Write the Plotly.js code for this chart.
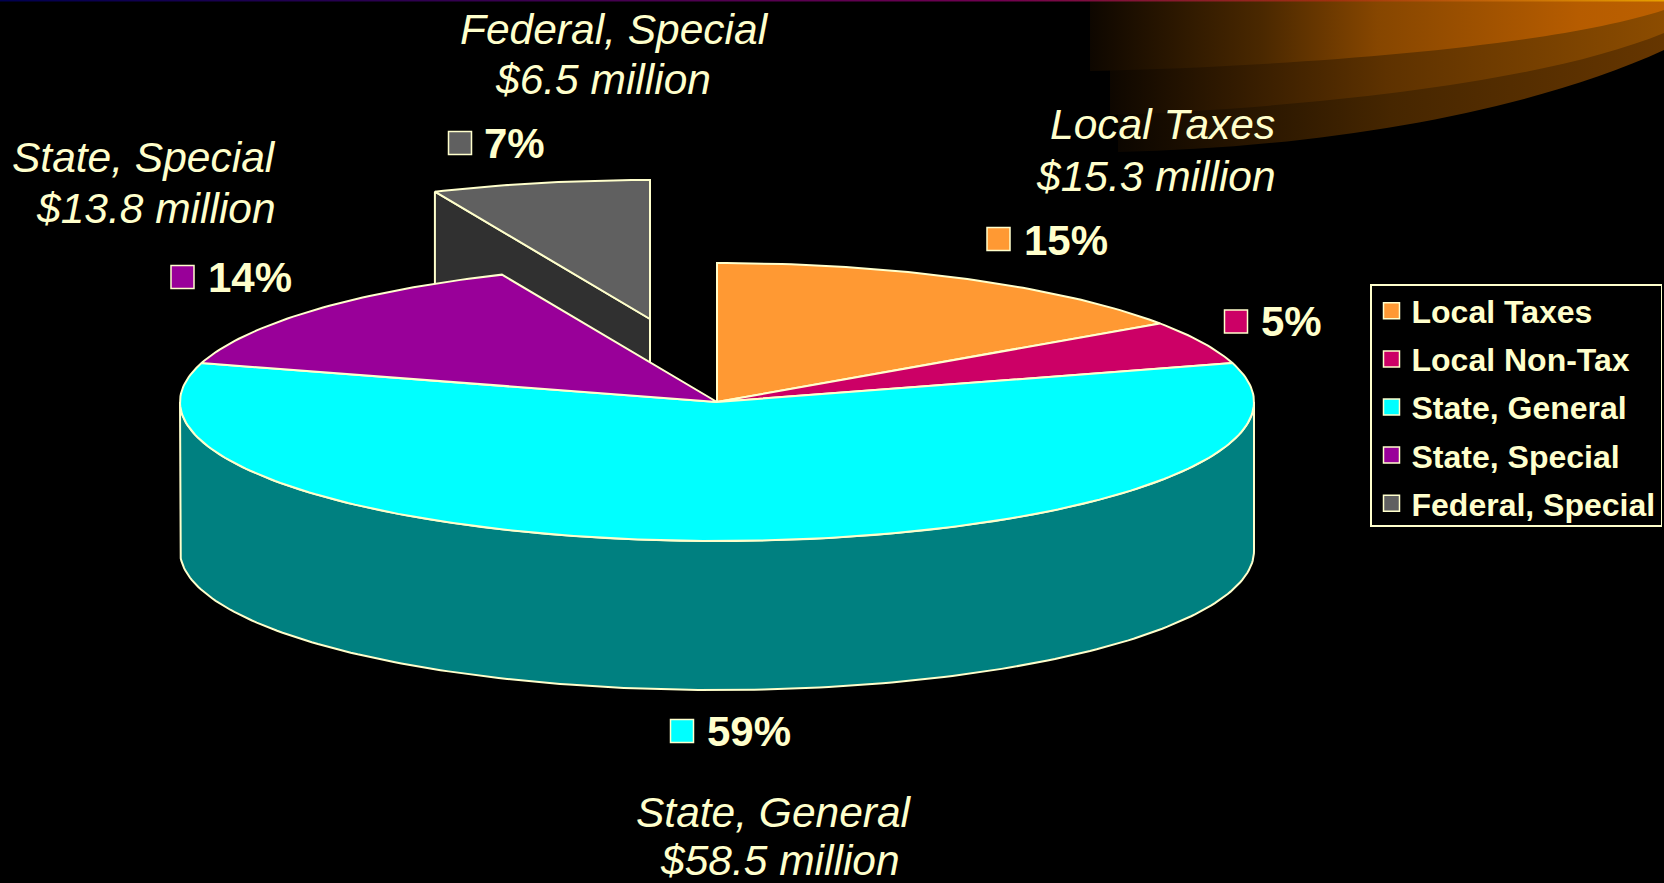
<!DOCTYPE html>
<html>
<head>
<meta charset="utf-8">
<script src="https://cdn.plot.ly/plotly-3.0.1.min.js"></script>
<style>html,body{margin:0;padding:0;background:#000;overflow:hidden}#chart{width:1664px;height:883px}</style>
</head>
<body>
<div id="chart"></div>
<script>
// Chart data
const categories = ['Local Taxes', 'Local Non-Tax', 'State, General', 'State, Special', 'Federal, Special'];
const amounts = [15.3, 5.0, 58.5, 13.8, 6.5];
const percentLabels = ['15%', '5%', '59%', '14%', '7%'];
const amountLabels = ['$15.3 million', null, '$58.5 million', '$13.8 million', '$6.5 million'];

// Styles
const topColors = ['#FF9933', '#CC0066', '#00FFFF', '#990099', '#606060'];
const sideColors = ['#804C1A', '#660033', '#008080', '#4C004C', '#303030'];
const ink = '#FFFFCC';
const fontFace = '"Liberation Sans", Arial, sans-serif';

// Page-space placement of the keys and captions
const keyX = [998.5, 1236, 682, 182.5, 460];
const keyY = [239, 321.5, 731, 277, 143];
const pctX = [1022, 1259, 705, 205.5, 482];
const pctY = [240, 321, 731, 277, 143];
const nameX = [1162, null, 774, 144, 614];
const nameY = [124, null, 812, 157, 29];
const amtX = [1156, null, 779.5, 155.5, 603];
const amtY = [176, null, 860, 208, 79];

// Projection of the tilted pie
const cx = 717, cy = 402, rx = 537, ry = 139, depth = 149;
const explodeIndex = 4, explodeDx = -67, explodeDy = -83;

const total = amounts.reduce((a, b) => a + b, 0);
const starts = [], ends = [];
amounts.reduce((acc, v, i) => { starts[i] = acc / total * 360; ends[i] = (acc + v) / total * 360; return acc + v; }, 0);

const rad = d => d * Math.PI / 180;
function rim(a, dx, dy) { return [cx + dx + rx * Math.sin(rad(a)), cy + dy - ry * Math.cos(rad(a))]; }
function arc(a0, a1, dx, dy) {
  const out = [], n = Math.max(2, Math.ceil(Math.abs(a1 - a0)));
  for (let k = 0; k <= n; k++) out.push(rim(a0 + (a1 - a0) * k / n, dx, dy));
  return out;
}
function polyTrace(pts, color, name) {
  const xs = pts.map(p => p[0]), ys = pts.map(p => p[1]);
  xs.push(xs[0]); ys.push(ys[0]);
  return { type: 'scatter', mode: 'lines', x: xs, y: ys, fill: 'toself', fillcolor: color,
           line: { color: ink, width: 2 }, name: name, showlegend: false, hoverinfo: 'skip' };
}
function topFace(i) {
  const dx = i === explodeIndex ? explodeDx : 0, dy = i === explodeIndex ? explodeDy : 0;
  return polyTrace([[cx + dx, cy + dy]].concat(arc(starts[i], ends[i], dx, dy)), topColors[i], categories[i]);
}

const traces = [];
// exploded slice: its inner wall, then its top
{
  const i = explodeIndex, a = starts[i];
  const o = rim(a, explodeDx, explodeDy), c = [cx + explodeDx, cy + explodeDy];
  traces.push(polyTrace([c, o, [o[0], o[1] + depth], [c[0], c[1] + depth]], sideColors[i], categories[i]));
  traces.push(topFace(i));
}
// front wall of each slice that reaches the near half of the rim
categories.forEach((c, i) => {
  if (i === explodeIndex) return;
  const a0 = Math.max(starts[i], 90), a1 = Math.min(ends[i], 270);
  if (a1 <= a0) return;
  const up = arc(a0, a1, 0, 0), low = arc(a1, a0, 0, depth);
  traces.push(polyTrace(up.concat(low), sideColors[i], c));
});
[0, 1, 2, 3].forEach(i => traces.push(topFace(i)));
// key squares next to the percentages; these also feed the legend
categories.forEach((c, i) => traces.push({
  type: 'scatter', mode: 'markers', x: [keyX[i]], y: [keyY[i]], name: c, legendgroup: c,
  marker: { symbol: 'square', size: 23, color: topColors[i], line: { color: ink, width: 1.5 } },
  hovertemplate: c + ': $' + amounts[i] + ' million<extra></extra>'
}));

// captions
const annotations = [];
function caption(text, x, y, anchor, font) {
  annotations.push({ text, x, y, xref: 'x', yref: 'y', xanchor: anchor, yanchor: 'middle', showarrow: false, font });
}
const pctFont = { family: fontFace, size: 42, color: ink, weight: 'bold' };
const capFont = { family: fontFace, size: 42.5, color: ink, style: 'italic' };
categories.forEach((c, i) => {
  caption(percentLabels[i], pctX[i], pctY[i], 'left', pctFont);
  if (amountLabels[i]) {
    caption(c, nameX[i], nameY[i], 'center', capFont);
    caption(amountLabels[i], amtX[i], amtY[i], 'center', capFont);
  }
});

// backdrop swoosh
const swoosh = `<svg xmlns="http://www.w3.org/2000/svg" width="1664" height="883" viewBox="0 0 1664 883">
<defs>
<linearGradient id="a" gradientUnits="userSpaceOnUse" x1="1090" x2="1664" y1="0" y2="0"><stop offset="0" stop-color="#0e0700"/><stop offset="0.3" stop-color="#4a2800"/><stop offset="0.5" stop-color="#864600"/><stop offset="0.85" stop-color="#b65c00"/><stop offset="1" stop-color="#bc6000"/></linearGradient>
<linearGradient id="b" gradientUnits="userSpaceOnUse" x1="1110" x2="1664" y1="0" y2="0"><stop offset="0" stop-color="#0e0700"/><stop offset="0.5" stop-color="#5e3200"/><stop offset="1" stop-color="#8c4c00"/></linearGradient>
<linearGradient id="c" gradientUnits="userSpaceOnUse" x1="1118" x2="1664" y1="0" y2="0"><stop offset="0" stop-color="#0c0600"/><stop offset="0.5" stop-color="#462600"/><stop offset="1" stop-color="#663600"/></linearGradient>
<linearGradient id="t" gradientUnits="userSpaceOnUse" x1="0" x2="1664" y1="0" y2="0"><stop offset="0" stop-color="#000050"/><stop offset="0.6" stop-color="#700050"/><stop offset="0.8" stop-color="#a03010"/><stop offset="1" stop-color="#e8a000"/></linearGradient>
</defs>
<rect width="1664" height="883" fill="#000"/>
<path d="M1118,0 L1118,152 C1320,148 1530,112 1664,50 L1664,0 Z" fill="url(#c)"/>
<path d="M1110,0 L1110,115 C1300,108 1540,84 1664,33 L1664,0 Z" fill="url(#b)"/>
<path d="M1090,0 L1090,71 C1300,66 1550,47 1664,10 L1664,0 Z" fill="url(#a)"/>
<rect width="1664" height="1.5" fill="url(#t)"/>
</svg>`;

const legendTop = 282, boxTop = 285, boxBottom = 526;
const layout = {
  width: 1664, height: 883,
  margin: { l: 0, r: 0, t: 0, b: 0 },
  paper_bgcolor: '#000', plot_bgcolor: 'rgba(0,0,0,0)',
  xaxis: { range: [0, 1664], visible: false, fixedrange: true },
  yaxis: { range: [883, 0], visible: false, fixedrange: true },
  showlegend: true,
  legend: {
    x: 1370 / 1664, y: 1 - legendTop / 883, xanchor: 'left', yanchor: 'top',
    bgcolor: '#000', bordercolor: ink, borderwidth: 1.5,
    font: { family: fontFace, size: 32, color: ink, weight: 'bold' },
    itemsizing: 'trace', traceorder: 'grouped', tracegroupgap: 3.5, itemclick: false, itemdoubleclick: false
  },
  annotations,
  images: [{ source: 'data:image/svg+xml;charset=utf-8,' + encodeURIComponent(swoosh), xref: 'paper', yref: 'paper',
             x: 0, y: 1, sizex: 1, sizey: 1, sizing: 'stretch', xanchor: 'left', yanchor: 'top', layer: 'below' }]
};
Plotly.newPlot('chart', traces, layout, { displayModeBar: false, responsive: false }).then(gd => {
  // legend swatches are capped by the library; bring them up to the reference's size
  gd.querySelectorAll('.legend .scatterpts path').forEach(p => {
    const w = p.getBBox().width;
    if (w > 0) p.setAttribute('transform', (p.getAttribute('transform') || '') + ' scale(' + (18 / w) + ')');
  });
  // trim the legend frame to the reference's box
  const bg = gd.querySelector('.legend rect.bg');
  if (bg) {
    bg.setAttribute('y', boxTop - legendTop);
    bg.setAttribute('height', boxBottom - boxTop);
    const scrollClip = gd.querySelector('.legend .scrollbox');
    const legendEl = gd.querySelector('.legend');
    if (legendEl) legendEl.style.overflow = 'visible';
  }
});
</script>
</body>
</html>
